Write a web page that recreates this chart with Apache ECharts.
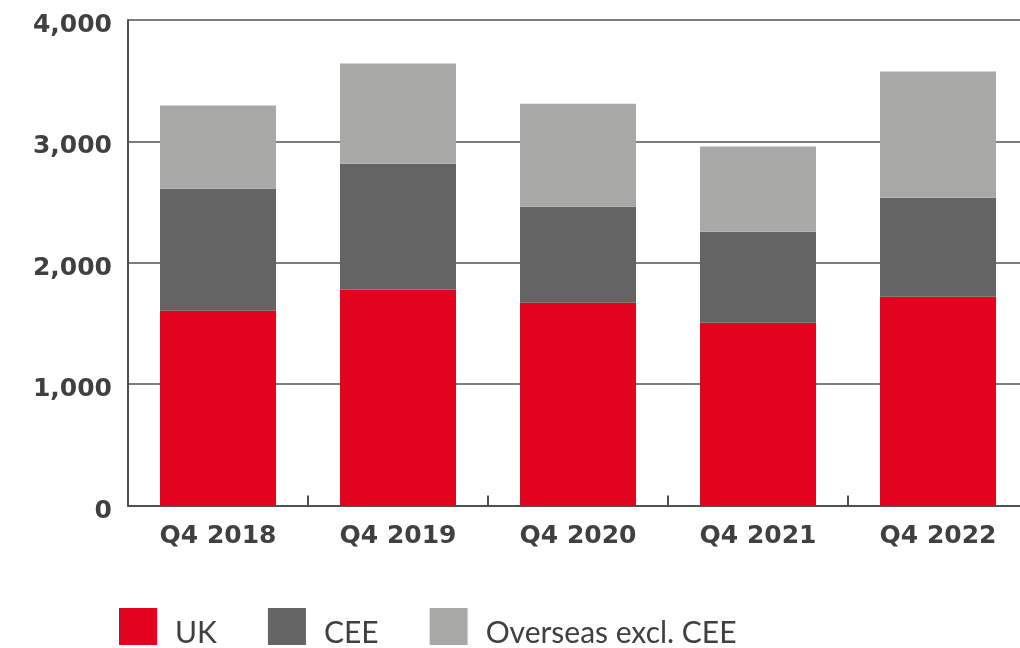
<!DOCTYPE html>
<html>
<head>
<meta charset="utf-8">
<script src="https://cdn.jsdelivr.net/npm/echarts@6/dist/echarts.min.js"></script>
<style>html,body{margin:0;padding:0;background:#fff;overflow:hidden;width:1020px;height:648px;}#c{width:1032px;height:648px;}</style>
</head>
<body>
<div id="c"></div>
<script>
const categories = ['Q4 2018', 'Q4 2019', 'Q4 2020', 'Q4 2021', 'Q4 2022'];
const seriesNames = ['UK', 'CEE', 'Overseas excl. CEE'];
const ukValues = [1604, 1777, 1670, 1505, 1720];
const ceeValues = [1006, 1039, 792, 751, 816];
const overseasValues = [685, 825, 849, 701, 1039];
const colors = ['#e2031f', '#646464', '#a8a8a7'];
const yTicks = [0, 1000, 2000, 3000, 4000];

const chart = echarts.init(document.getElementById('c'), null, {renderer: 'canvas'});
const textColor = '#404040';
const axisFont = '"DejaVu Sans", sans-serif';
const legendFont = 'Lato, "Open Sans", sans-serif';
const mk = (name, data, color) => ({
  name, type: 'bar', stack: 'total', data, barWidth: 116,
  itemStyle: {color}, emphasis: {disabled: true}
});
chart.setOption({
  animation: false,
  grid: {left: 128, top: 20, right: 4, bottom: 142.5, containLabel: false},
  legend: {
    left: 119, top: 608, padding: 0, itemWidth: 38, itemHeight: 37, itemGap: 51,
    icon: 'rect',
    formatter: '{t|{name}}',
    textStyle: {
      fontFamily: legendFont, fontSize: 30, color: textColor, padding: [0, 0, 0, 13],
      rich: {t: {fontFamily: legendFont, fontSize: 30, color: textColor, padding: [14, 0, 0, 0]}}
    },
    data: seriesNames
  },
  xAxis: {
    type: 'category', data: categories,
    axisLine: {lineStyle: {color: '#505050', width: 2}},
    axisTick: {show: true, inside: true, length: 10, alignWithLabel: false, lineStyle: {color: '#505050', width: 2}},
    axisLabel: {fontFamily: axisFont, fontWeight: 'bold', fontSize: 25, color: textColor, margin: 18}
  },
  yAxis: {
    type: 'value', min: 0, max: 4000, interval: 1000,
    axisLine: {show: true, lineStyle: {color: '#505050', width: 2}},
    axisTick: {show: false},
    splitLine: {lineStyle: {color: '#505050', width: 1.5}},
    axisLabel: {
      fontFamily: axisFont, fontWeight: 'bold', fontSize: 25, color: textColor, margin: 16,
      formatter: v => yTicks.includes(v) ? '{v|' + v.toLocaleString('en-US') + '}' : '',
      rich: {v: {fontFamily: axisFont, fontWeight: 'bold', fontSize: 25, color: textColor, padding: [11, 0, 0, 0]}}
    }
  },
  series: [
    mk(seriesNames[0], ukValues, colors[0]),
    mk(seriesNames[1], ceeValues, colors[1]),
    mk(seriesNames[2], overseasValues, colors[2])
  ]
});
</script>
</body>
</html>
